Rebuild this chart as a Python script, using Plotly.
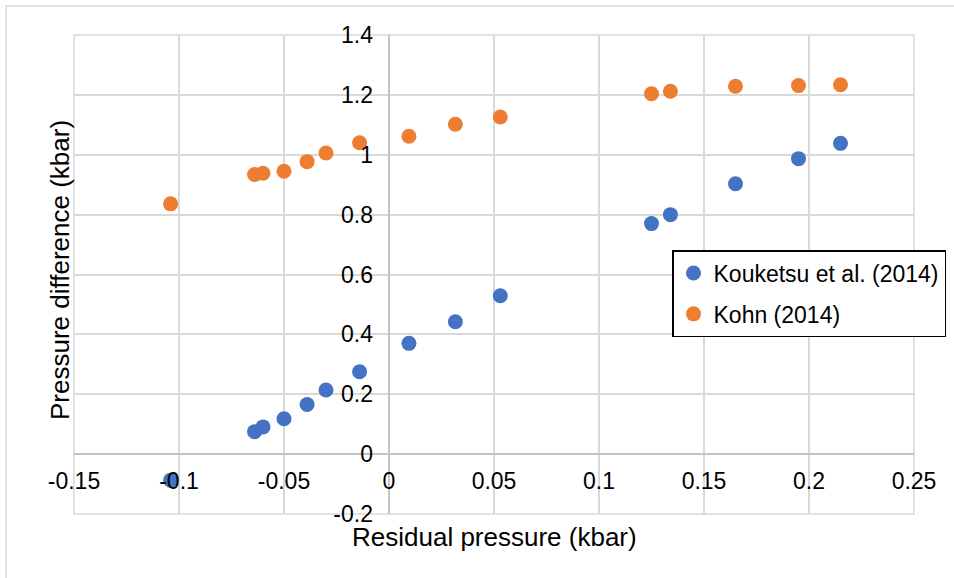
import plotly.graph_objects as go

# Residual pressure (kbar) for each measurement
residual = [-0.104, -0.064, -0.060, -0.050, -0.039, -0.030, -0.014, 0.0095,
            0.0316, 0.053, 0.125, 0.134, 0.165, 0.195, 0.215]

# Pressure difference (kbar) by calibration
kouketsu = [-0.087, 0.075, 0.091, 0.118, 0.166, 0.214, 0.275, 0.370,
            0.442, 0.529, 0.770, 0.800, 0.903, 0.987, 1.038]
kohn = [0.836, 0.934, 0.938, 0.945, 0.977, 1.006, 1.040, 1.062,
        1.102, 1.126, 1.204, 1.212, 1.229, 1.231, 1.234]

x_ticks = [-0.15, -0.1, -0.05, 0, 0.05, 0.1, 0.15, 0.2, 0.25]
x_labels = ["-0.15", "-0.1", "-0.05", "0", "0.05", "0.1", "0.15", "0.2", "0.25"]
y_ticks = [-0.2, 0, 0.2, 0.4, 0.6, 0.8, 1, 1.2, 1.4]
y_labels = ["-0.2", "0", "0.2", "0.4", "0.6", "0.8", "1", "1.2", "1.4"]

FONT = "Liberation Sans, Arial, sans-serif"
GRID = "#D9D9D9"
W, H = 954, 578

fig = go.Figure()
fig.add_trace(go.Scatter(x=residual, y=kouketsu, mode="markers",
                         name="Kouketsu et al. (2014)", legendgroup="a",
                         marker=dict(color="#4472C4", size=15)))
fig.add_trace(go.Scatter(x=residual, y=kohn, mode="markers",
                         name="Kohn (2014)", legendgroup="b",
                         marker=dict(color="#ED7D31", size=15)))

x_range = [-0.15, 0.25]
y_range = [-0.2, 1.4]
x_zero_frac = (0 - x_range[0]) / (x_range[1] - x_range[0])
y_zero_frac = (0 - y_range[0]) / (y_range[1] - y_range[0])

fig.update_layout(
    width=W, height=H,
    margin=dict(l=74, r=40, t=35, b=64, autoexpand=False),
    paper_bgcolor="white", plot_bgcolor="white",
    font=dict(family=FONT, color="#000000", size=23),
    xaxis=dict(range=x_range, tickvals=x_ticks, ticktext=x_labels,
               showgrid=True, gridcolor=GRID, gridwidth=1.5,
               zeroline=True, zerolinecolor="#C4C4C4", zerolinewidth=1.5,
               showline=False, ticks="", anchor="free", position=y_zero_frac,
               ticklabelstandoff=11, tickfont=dict(size=23)),
    yaxis=dict(range=y_range, tickvals=y_ticks, ticktext=y_labels,
               showgrid=True, gridcolor=GRID, gridwidth=1.5,
               zeroline=True, zerolinecolor="#C4C4C4", zerolinewidth=1.5,
               showline=False, ticks="", anchor="free", position=x_zero_frac,
               ticklabelstandoff=16, tickfont=dict(size=23)),
    legend=dict(xref="container", yref="container",
                x=672 / W, y=1 - 250 / H, xanchor="left", yanchor="top",
                bgcolor="white", bordercolor="#000000", borderwidth=1.5,
                font=dict(size=23, family=FONT), tracegroupgap=8,
                itemwidth=30),
    showlegend=True,
)

# plot-area frame in gridline colour
fig.add_shape(type="rect", xref="paper", yref="paper", x0=0, y0=0, x1=1, y1=1,
              line=dict(color=GRID, width=1.5), layer="below")
# outer chart border
fig.add_shape(type="rect", xref="paper", yref="paper",
              x0=(6 - 74) / 840, y0=-0.3, x1=1.3, y1=(514 - 6) / 479,
              line=dict(color=GRID, width=1.5), layer="below")

# axis titles
fig.add_annotation(text="Residual pressure (kbar)", xref="paper", yref="paper",
                   x=0.5, y=(514 - 537) / 479, xanchor="center", yanchor="middle",
                   showarrow=False, font=dict(size=26, family=FONT))
fig.add_annotation(text="Pressure difference (kbar)", xref="paper", yref="paper",
                   x=(60 - 74) / 840, y=(514 - 270) / 479, xanchor="center",
                   yanchor="middle", textangle=-90,
                   showarrow=False, font=dict(size=26, family=FONT))

fig.write_html("out.html")
